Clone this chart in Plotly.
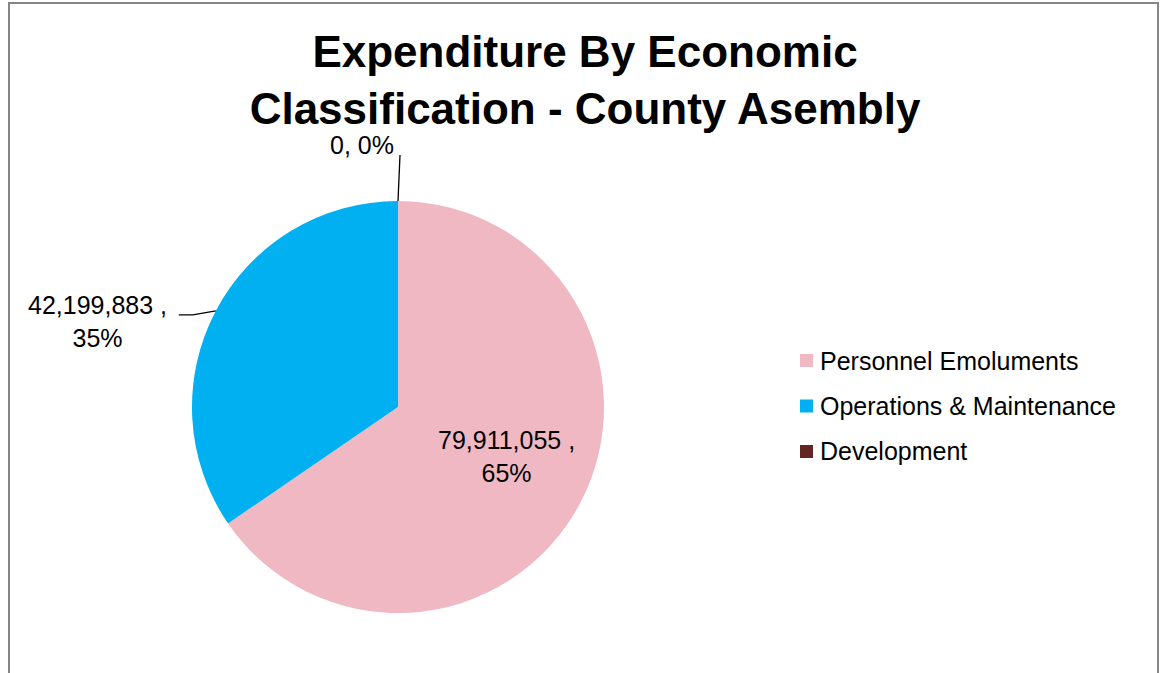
import math
import plotly.graph_objects as go

# Expenditure by economic classification - County Assembly
categories = ["Personnel Emoluments", "Operations & Maintenance", "Development"]
amounts = [79911055, 42199883, 0]
colors = ["#F0B8C2", "#00B0F0", "#632523"]
title_text = "Expenditure By Economic<br>Classification - County Asembly"

W, H = 1162, 673
FONT = "Liberation Sans, Arial, sans-serif"
LABEL_SIZE = 25

# pie placement in pixels
cx, cy, R = 398, 407, 206


def px(x):
    return x / W


def py(y):
    return 1 - y / H


total = sum(amounts)
pcts = [round(100 * a / total) for a in amounts]

fig = go.Figure(
    go.Pie(
        labels=categories,
        values=amounts,
        marker=dict(colors=colors, line=dict(width=0)),
        sort=False,
        direction="clockwise",
        rotation=0,
        textinfo="none",
        hoverinfo="label+value+percent",
        showlegend=False,
        domain=dict(x=[px(cx - R), px(cx + R)], y=[py(cy + R), py(cy - R)]),
    )
)

# slice mid-angles (clockwise from 12 o'clock), in degrees
mids = []
acc = 0.0
for a in amounts:
    frac = a / total
    mids.append(360 * (acc + frac / 2))
    acc += frac


def polar(angle_deg, r):
    t = math.radians(angle_deg)
    return cx + r * math.sin(t), cy - r * math.cos(t)


annotations = []
shapes = []

# Personnel Emoluments: label inside the slice
lx, ly = polar(mids[0], 0.53 * R)
annotations.append(dict(
    x=px(lx + 12), y=py(ly - 1), xref="paper", yref="paper",
    text=f"{amounts[0]:,} ,<br>{pcts[0]}%", showarrow=False,
    font=dict(family=FONT, size=LABEL_SIZE, color="#000000"),
    xanchor="center", yanchor="middle", align="center",
))

# Operations & Maintenance: label outside with leader line
ex, ey = polar(mids[1], R)
annotations.append(dict(
    x=px(ex - 118), y=py(ey + 11), xref="paper", yref="paper",
    text=f"{amounts[1]:,} ,<br>{pcts[1]}%", showarrow=False,
    font=dict(family=FONT, size=LABEL_SIZE, color="#000000"),
    xanchor="center", yanchor="middle", align="center",
))
shapes.append(dict(
    type="path", xref="paper", yref="paper",
    path=(f"M {px(ex - 37)},{py(ey + 4)} L {px(ex - 23)},{py(ey + 4)} "
          f"L {px(ex)},{py(ey)}"),
    line=dict(color="#000000", width=1.3),
))

# Development: zero-size slice at 12 o'clock, label above
dx, dy = polar(mids[2], R)
annotations.append(dict(
    x=px(dx - 36), y=py(dy - 56), xref="paper", yref="paper",
    text=f"{amounts[2]:,}, {pcts[2]}%", showarrow=False,
    font=dict(family=FONT, size=LABEL_SIZE, color="#000000"),
    xanchor="center", yanchor="middle", align="center",
))
shapes.append(dict(
    type="line", xref="paper", yref="paper",
    x0=px(dx), y0=py(dy), x1=px(dx + 2), y1=py(dy - 46),
    line=dict(color="#000000", width=1.3),
))

# Legend drawn as colour swatches and text
leg_x, leg_y0, leg_dy, sw = 800, 360.5, 45.5, 13
for i, (name, col) in enumerate(zip(categories, colors)):
    yc = leg_y0 + i * leg_dy
    shapes.append(dict(
        type="rect", xref="paper", yref="paper",
        x0=px(leg_x), x1=px(leg_x + sw), y0=py(yc + sw / 2), y1=py(yc - sw / 2),
        fillcolor=col, line=dict(width=0),
    ))
    annotations.append(dict(
        x=px(leg_x + sw + 5), y=py(yc), xref="paper", yref="paper",
        text=name, showarrow=False,
        font=dict(family=FONT, size=LABEL_SIZE, color="#000000"),
        xanchor="left", yanchor="middle",
    ))

# Chart area border (left, top, right)
border = dict(color="#868686", width=2)
shapes.append(dict(type="path", xref="paper", yref="paper",
                   path=f"M {px(9)},{py(H + 5)} L {px(9)},{py(3)} L {px(1158)},{py(3)} L {px(1158)},{py(H + 5)}",
                   line=border))

fig.update_layout(
    width=W, height=H,
    margin=dict(l=0, r=0, t=0, b=0),
    paper_bgcolor="#FFFFFF",
    plot_bgcolor="#FFFFFF",
    title=dict(
        text=title_text,
        x=px(585), y=py(67), xref="paper", yref="paper",
        xanchor="center", yanchor="middle",
        font=dict(family=FONT, size=44, color="#000000", weight="bold"),
    ),
    annotations=annotations,
    shapes=shapes,
    showlegend=False,
)

fig.write_html("out.html")
